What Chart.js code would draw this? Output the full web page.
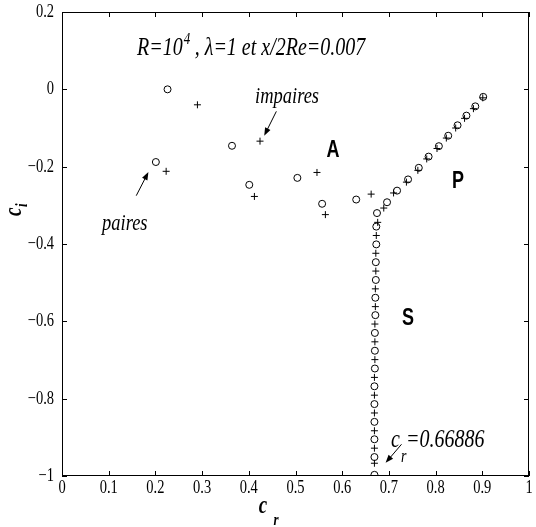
<!DOCTYPE html>
<html>
<head>
<meta charset="utf-8">
<script src="https://cdn.jsdelivr.net/npm/chart.js@4.4.0/dist/chart.umd.min.js"></script>
<style>
  html, body { margin: 0; padding: 0; background: #fff; }
  #wrap { width: 536px; height: 527px; }
</style>
</head>
<body>
<div id="wrap"><canvas id="spectre"></canvas></div>
<script>
// ─── valeurs propres (c_r, c_i) ─────────────────────────────
// modes pairs (o) : branche A, branche P, branche S
const pairesCr = [
  0.201, 0.226, 0.364, 0.401, 0.504, 0.557, 0.630,
  0.696, 0.7175, 0.741, 0.764, 0.785, 0.807, 0.827, 0.847, 0.866, 0.885, 0.902,
  0.6745, 0.673, 0.673, 0.672, 0.672, 0.671, 0.671, 0.670, 0.670, 0.670, 0.669, 0.669, 0.669, 0.669, 0.669, 0.669
];
const pairesCi = [
  -0.188, 0.000, -0.146, -0.247, -0.229, -0.296, -0.285,
  -0.292, -0.262, -0.233, -0.203, -0.174, -0.147, -0.120, -0.093, -0.068, -0.044, -0.0195,
  -0.320, -0.355, -0.401, -0.447, -0.493, -0.539, -0.584, -0.630, -0.676, -0.722, -0.768, -0.814, -0.860, -0.905, -0.951, -0.997
];
// modes impairs (+)
const impairesCr = [
  0.223, 0.290, 0.424, 0.412, 0.546, 0.564, 0.662,
  0.689, 0.710, 0.7375, 0.762, 0.781, 0.803, 0.823, 0.843, 0.862, 0.881, 0.901,
  0.676, 0.673, 0.672, 0.672, 0.671, 0.671, 0.670, 0.670, 0.670, 0.669, 0.669, 0.669, 0.669, 0.669, 0.669
];
const impairesCi = [
  -0.212, -0.040, -0.134, -0.277, -0.215, -0.324, -0.271,
  -0.307, -0.268, -0.240, -0.2095, -0.180, -0.153, -0.126, -0.100, -0.075, -0.050, -0.022,
  -0.344, -0.378, -0.424, -0.470, -0.516, -0.562, -0.607, -0.653, -0.699, -0.745, -0.791, -0.837, -0.883, -0.928, -0.967
];

const xTicks = [0, 0.1, 0.2, 0.3, 0.4, 0.5, 0.6, 0.7, 0.8, 0.9, 1];
const xTickLabels = ['0', '0.1', '0.2', '0.3', '0.4', '0.5', '0.6', '0.7', '0.8', '0.9', '1'];
const yTicks = [-1, -0.8, -0.6, -0.4, -0.2, 0, 0.2];
const yTickLabels = ['\u22121', '\u22120.8', '\u22120.6', '\u22120.4', '\u22120.2', '0', '0.2'];

const INK = '#000';
const SERIF = '"Liberation Serif", "Times New Roman", serif';
const SANS = '"Liberation Sans", Arial, sans-serif';
const STRETCH = 1.28;   // texte un peu étiré en hauteur, comme l'export d'origine

const toPoints = (xs, ys) => xs.map((x, i) => ({ x, y: ys[i] }));

// texte étiré verticalement autour de sa ligne de base
function txt(ctx, s, x, y, font, align) {
  ctx.save();
  ctx.font = font;
  ctx.textAlign = align || 'left';
  ctx.textBaseline = 'alphabetic';
  ctx.translate(x, y);
  ctx.scale(1, STRETCH);
  ctx.fillText(s, 0, 0);
  ctx.restore();
}

function arrow(ctx, x1, y1, x2, y2) {
  const a = Math.atan2(y2 - y1, x2 - x1);
  const L = 8, W = 3;
  ctx.beginPath();
  ctx.moveTo(x1, y1);
  ctx.lineTo(x2 - L * 0.6 * Math.cos(a), y2 - L * 0.6 * Math.sin(a));
  ctx.stroke();
  ctx.beginPath();
  ctx.moveTo(x2, y2);
  ctx.lineTo(x2 - L * Math.cos(a) + W * Math.sin(a), y2 - L * Math.sin(a) - W * Math.cos(a));
  ctx.lineTo(x2 - L * Math.cos(a) - W * Math.sin(a), y2 - L * Math.sin(a) + W * Math.cos(a));
  ctx.closePath();
  ctx.fill();
}

// cadre, graduations intérieures, étiquettes et annotations
const cadre = {
  id: 'cadre',
  afterDraw(chart) {
    const { ctx, chartArea: a, scales: { x, y } } = chart;
    ctx.save();
    ctx.strokeStyle = INK;
    ctx.fillStyle = INK;
    ctx.lineWidth = 1;
    ctx.strokeRect(a.left + 0.5, a.top + 0.5, a.right - a.left - 1, a.bottom - a.top - 1);

    const tl = 5;
    ctx.beginPath();
    xTicks.forEach(v => {
      const px = Math.round(x.getPixelForValue(v)) + 0.5;
      ctx.moveTo(px, a.bottom); ctx.lineTo(px, a.bottom - tl);
      ctx.moveTo(px, a.top); ctx.lineTo(px, a.top + tl);
    });
    yTicks.forEach(v => {
      const py = Math.round(y.getPixelForValue(v)) + 0.5;
      ctx.moveTo(a.left, py); ctx.lineTo(a.left + tl, py);
      ctx.moveTo(a.right, py); ctx.lineTo(a.right - tl, py);
    });
    ctx.stroke();

    const tickFont = '14.5px ' + SERIF;
    xTicks.forEach((v, i) => txt(ctx, xTickLabels[i], x.getPixelForValue(v), a.bottom + 17, tickFont, 'center'));
    yTicks.forEach((v, i) => txt(ctx, yTickLabels[i], a.left - 8, y.getPixelForValue(v) + 5, tickFont, 'right'));

    // titres des axes
    txt(ctx, 'c', 263, 513, 'italic bold 19px ' + SERIF, 'center');
    txt(ctx, 'r', 276, 525, 'italic bold 13px ' + SERIF, 'center');
    ctx.save();
    ctx.translate(21, 216);
    ctx.rotate(-Math.PI / 2);
    txt(ctx, 'c', 0, 0, 'italic bold 19px ' + SERIF, 'left');
    txt(ctx, 'i', 9, 6, 'italic bold 13px ' + SERIF, 'left');
    ctx.restore();

    // légende du cas
    const it = 'italic 20px ' + SERIF;
    txt(ctx, 'R=10', 137, 55, it);
    ctx.font = it;
    const cx = 137 + ctx.measureText('R=10').width;
    txt(ctx, '4', cx + 1, 44, 'italic 13px ' + SERIF);
    txt(ctx, ' , \u03bb=1 et x/2Re=0.007', cx + 7, 55, it);

    // étiquettes des modes
    const lab = 'italic 18.5px ' + SERIF;
    txt(ctx, 'impaires', 255, 103, lab);
    txt(ctx, 'paires', 102, 230, lab);
    arrow(ctx, x.getPixelForValue(0.459), y.getPixelForValue(-0.057), x.getPixelForValue(0.433), y.getPixelForValue(-0.120));
    arrow(ctx, x.getPixelForValue(0.159), y.getPixelForValue(-0.275), x.getPixelForValue(0.185), y.getPixelForValue(-0.214));

    // c_r limite de la branche S
    const lim = 'italic 20px ' + SERIF;
    txt(ctx, 'c', 391, 447, lim);
    txt(ctx, 'r', 401, 462, 'italic 14px ' + SERIF);
    txt(ctx, '=0.66886', 406, 447, lim);
    arrow(ctx, x.getPixelForValue(0.727), y.getPixelForValue(-0.918), x.getPixelForValue(0.693), y.getPixelForValue(-0.966));

    // noms des branches
    const br = 'bold 18px ' + SANS;
    txt(ctx, 'A', 333, 157, br, 'center');
    txt(ctx, 'P', 458, 188, br, 'center');
    txt(ctx, 'S', 408, 325, br, 'center');
    ctx.restore();
  }
};

new Chart(document.getElementById('spectre'), {
  type: 'scatter',
  data: {
    datasets: [
      {
        label: 'paires',
        data: toPoints(pairesCr, pairesCi),
        pointStyle: 'circle',
        pointRadius: 3.5,
        borderWidth: 1,
        borderColor: INK,
        backgroundColor: 'rgba(0,0,0,0)'
      },
      {
        label: 'impaires',
        data: toPoints(impairesCr, impairesCi),
        pointStyle: 'cross',
        pointRadius: 3.5,
        borderWidth: 1,
        borderColor: INK,
        backgroundColor: INK
      }
    ]
  },
  options: {
    responsive: true,
    maintainAspectRatio: false,
    animation: false,
    layout: { padding: { top: 12, right: 7, left: 0, bottom: 0 } },
    plugins: { legend: { display: false }, tooltip: { enabled: false } },
    scales: {
      x: {
        type: 'linear', min: 0, max: 1,
        grid: { display: false, drawTicks: false },
        border: { display: false },
        ticks: { display: false },
        afterFit: s => { s.height = 51; }
      },
      y: {
        type: 'linear', min: -1, max: 0.2,
        grid: { display: false, drawTicks: false },
        border: { display: false },
        ticks: { display: false },
        afterFit: s => { s.width = 62; }
      }
    }
  },
  plugins: [cadre]
});
</script>
</body>
</html>
